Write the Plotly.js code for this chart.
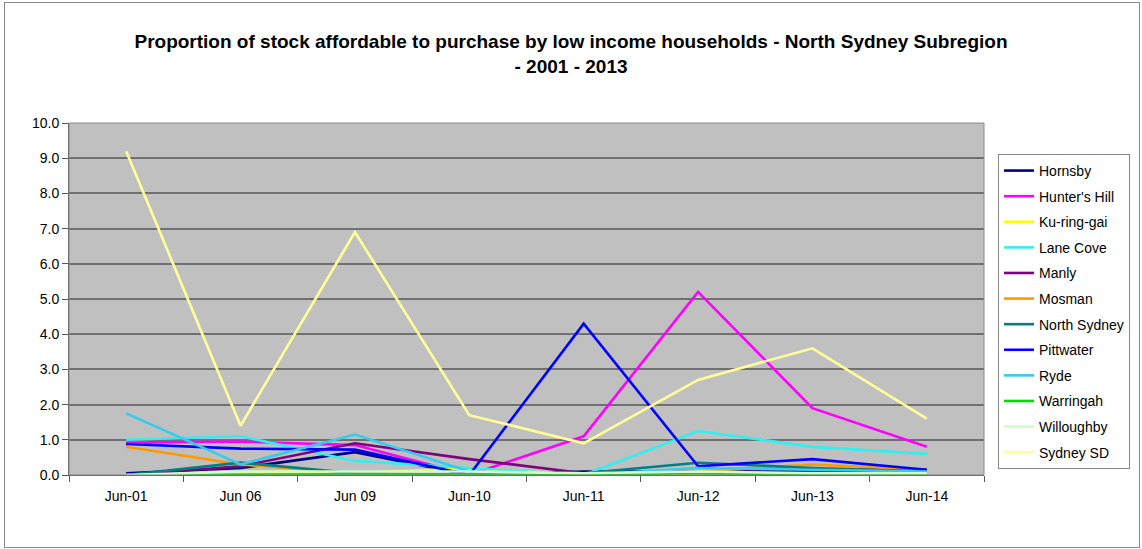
<!DOCTYPE html>
<html>
<head>
<meta charset="utf-8">
<script src="https://cdn.plot.ly/plotly-3.0.1.min.js"></script>
<style>
  html, body { margin: 0; padding: 0; background: #ffffff; }
  #chart { width: 1142px; height: 549px; }
  #frame { position: absolute; left: 4px; top: 2px; width: 1134px; height: 544px; border: 1px solid #8a8a8a; pointer-events: none; }
</style>
</head>
<body>
<div id="chart"></div>
<div id="frame"></div>
<script>
const categories = ["Jun-01", "Jun 06", "Jun 09", "Jun-10", "Jun-11", "Jun-12", "Jun-13", "Jun-14"];

const hornsby     = [0.05, 0.20, 0.65, 0.00, 0.10, 0.10, 0.15, 0.15];
const huntersHill = [0.92, 0.95, 0.85, 0.00, 1.10, 5.20, 1.90, 0.80];
const kuringgai   = [0.00, 0.05, 0.05, 0.20, 0.00, 0.05, 0.05, 0.05];
const laneCove    = [1.00, 1.10, 0.40, 0.20, 0.00, 1.25, 0.80, 0.60];
const manly       = [0.00, 0.25, 0.90, 0.45, 0.05, 0.10, 0.10, 0.15];
const mosman      = [0.80, 0.30, 0.05, 0.00, 0.00, 0.10, 0.30, 0.15];
const northSydney = [0.00, 0.35, 0.05, 0.00, 0.05, 0.35, 0.20, 0.10];
const pittwater   = [0.88, 0.75, 0.72, 0.00, 4.30, 0.25, 0.45, 0.15];
const ryde        = [1.75, 0.30, 1.15, 0.10, 0.00, 0.20, 0.15, 0.10];
const warringah   = [0.00, 0.02, 0.02, 0.02, 0.02, 0.05, 0.02, 0.02];
const willoughby  = [0.00, 0.10, 0.10, 0.10, 0.05, 0.10, 0.05, 0.05];
const sydneySD    = [9.20, 1.40, 6.90, 1.70, 0.90, 2.70, 3.60, 1.60];

const seriesNames = ["Hornsby", "Hunter's Hill", "Ku-ring-gai", "Lane Cove", "Manly", "Mosman",
                     "North Sydney", "Pittwater", "Ryde", "Warringah", "Willoughby", "Sydney SD"];
const seriesValues = [hornsby, huntersHill, kuringgai, laneCove, manly, mosman,
                      northSydney, pittwater, ryde, warringah, willoughby, sydneySD];
const seriesColors = ["#000080", "#FF00FF", "#FFFF00", "#33EEEE", "#800080", "#FF9900",
                      "#008080", "#0000FF", "#33CCEE", "#00DD00", "#CCFFCC", "#FFFF99"];

const traces = seriesNames.map((n, i) => ({
  type: "scatter",
  mode: "lines",
  name: n,
  x: categories,
  y: seriesValues[i],
  legendgroup: "g" + i,
  line: { color: seriesColors[i], width: 2.6 },
  hoverinfo: "x+y+name"
}));

const layout = {
  width: 1142,
  height: 549,
  paper_bgcolor: "#ffffff",
  plot_bgcolor: "#C0C0C0",
  margin: { l: 69, r: 156, t: 123, b: 74 },
  font: { family: "Liberation Sans, Arial, sans-serif", color: "#000000", size: 14 },
  title: {
    text: "<b>Proportion of stock affordable to purchase by low income households - North Sydney Subregion<br>- 2001 - 2013</b>",
    font: { family: "Liberation Sans, Arial, sans-serif", size: 19, color: "#000000" },
    x: 0.5, xref: "container", xanchor: "center",
    y: 0.912, yref: "container", yanchor: "top"
  },
  xaxis: {
    type: "category",
    range: [-0.5, 7.5],
    showgrid: false,
    zeroline: false,
    showline: true,
    linecolor: "#555555",
    linewidth: 1,
    ticks: "outside",
    tickson: "boundaries",
    ticklen: 6,
    tickcolor: "#555555",
    ticklabelstandoff: 8,
    tickfont: { size: 14, color: "#000000" },
    fixedrange: true
  },
  yaxis: {
    range: [0, 10],
    dtick: 1,
    tick0: 0,
    tickformat: ".1f",
    showgrid: true,
    gridcolor: "#707070",
    gridwidth: 2,
    zeroline: false,
    showline: true,
    linecolor: "#555555",
    linewidth: 1,
    ticks: "outside",
    ticklen: 6,
    tickcolor: "#555555",
    tickfont: { size: 14, color: "#000000" },
    fixedrange: true
  },
  shapes: [
    { type: "rect", xref: "paper", yref: "paper", x0: 0, x1: 1, y0: 0, y1: 1,
      line: { color: "#8a8a8a", width: 1 }, fillcolor: "rgba(0,0,0,0)", layer: "above" }
  ],
  legend: {
    x: 1.0153, xanchor: "left",
    y: 0.912, yanchor: "top",
    bgcolor: "#ffffff",
    bordercolor: "#888888",
    borderwidth: 1,
    font: { size: 14, color: "#000000" },
    traceorder: "grouped",
    tracegroupgap: 4.4,
    itemwidth: 30
  },
  showlegend: true
};

Plotly.newPlot("chart", traces, layout, { displayModeBar: false, staticPlot: true });
</script>
</body>
</html>
